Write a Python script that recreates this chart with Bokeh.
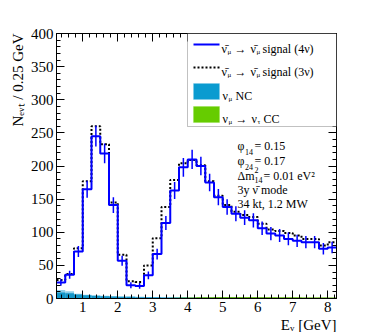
import numpy as np
from bokeh.plotting import figure
from bokeh.models import Range1d, LinearAxis, FixedTicker, Label, BoxAnnotation, Arrow, Title
from bokeh.embed import file_html
from bokeh.resources import INLINE

# ---------------- data ----------------
bin_edges = [0.25, 0.5, 0.75, 1.0, 1.25, 1.5, 1.75, 2.0, 2.25, 2.5, 2.75, 3.0, 3.25, 3.5,
             3.75, 4.0, 4.25, 4.5, 4.75, 5.0, 5.25, 5.5, 5.75, 6.0, 6.25, 6.5, 6.75, 7.0,
             7.25, 7.5, 7.75, 8.0, 8.25]

signal_3nu = [28, 37, 76, 177, 260, 233, 145, 66, 26, 25, 50, 91, 138, 179, 204, 209,
              201, 177, 155, 141, 131, 126, 123, 113, 104, 102, 99, 95, 90, 90, 80, 85]
signal_4nu = [24, 36, 71, 165, 245, 219, 141, 57, 20, 19, 35, 67, 114, 163, 198, 210,
              200, 175, 153, 138, 128, 122, 118, 106, 98, 95, 90, 87, 85, 85, 75, 77]
nc_3nu = [13, 11, 7, 5.5, 4.5, 4, 3.5, 3, 3, 2.5, 2.2, 2, 2, 1.8, 1.8, 1.5,
          1.5, 1.3, 1.2, 1.2, 1.1, 1, 1, 1, 0.9, 0.8, 0.8, 0.7, 0.7, 0.7, 0.6, 0.6]
nc_4nu = [9, 8, 6, 5, 4, 3.5, 3, 2.5, 2.5, 2, 2, 2, 1.5, 1.5, 1.5, 1.2,
          1.2, 1, 1, 1, 1, 0.8, 0.8, 0.8, 0.6, 0.6, 0.6, 0.5, 0.5, 0.5, 0.5, 0.5]
cc_nutau = [0, 0, 0, 0, 0, 0, 0, 0, 0, 0, 0, 0, 0, 0.3, 0.6, 0.8,
            1, 1, 1.2, 1.2, 1.2, 1.2, 1.2, 1.1, 1.1, 1, 1, 1, 0.9, 0.9, 0.9, 0.8]

x_major = [1, 2, 3, 4, 5, 6, 7, 8]
y_major = [0, 50, 100, 150, 200, 250, 300, 350, 400]

# ---------------- derived ----------------
edges = np.array(bin_edges)
left, right = edges[:-1], edges[1:]
centers = 0.5 * (left + right)
s3 = np.array(signal_3nu, float)
s4 = np.array(signal_4nu, float)
err4 = np.sqrt(s4)

FONT = "Liberation Serif"
FL, FB = 56, 298  # frame left / bottom in page pixels

p = figure(frame_width=280, frame_height=265, x_range=Range1d(0.25, 8.25), y_range=Range1d(0, 400),
           output_backend="svg", toolbar_location=None,
           min_border_left=56, min_border_right=30, min_border_top=33, min_border_bottom=33)
p.grid.visible = False
p.outline_line_color = "black"
p.outline_line_alpha = 1.0
p.background_fill_color = "white"
p.border_fill_color = "white"

# backgrounds
p.quad(left=left, right=right, bottom=0, top=nc_3nu, fill_color="#8fd0ea", line_color=None)
p.quad(left=left, right=right, bottom=0, top=nc_4nu, fill_color="#1496c8", line_color=None)
p.quad(left=left, right=right, bottom=0, top=cc_nutau, fill_color="#66cc00", line_color="#55aa00",
       line_width=1)

# signals
p.step(x=edges, y=np.append(s3, s3[-1]), mode="after", line_color="black", line_width=2,
       line_dash="2 2")
p.step(x=edges, y=np.append(s4, s4[-1]), mode="after", line_color="#0000ff", line_width=2)
p.segment(x0=centers, y0=s4 - err4, x1=centers, y1=s4 + err4, line_color="#0000ff", line_width=1.5)

# axes
minor_x = [round(v, 2) for v in np.arange(0.4, 8.25, 0.2)]
minor_y = list(range(0, 401, 10))
xt = FixedTicker(ticks=x_major, minor_ticks=minor_x)
yt = FixedTicker(ticks=y_major, minor_ticks=minor_y)


def style(ax, labels=True):
    ax.major_tick_in = 8
    ax.major_tick_out = 0
    ax.minor_tick_in = 4
    ax.minor_tick_out = 0
    ax.axis_line_color = "black"
    ax.major_tick_line_color = "black"
    ax.minor_tick_line_color = "black"
    ax.major_label_text_font = FONT
    if labels:
        ax.major_label_text_font_size = "15px"
        ax.major_label_text_color = "black"
    else:
        ax.major_label_text_font_size = "1px"
        ax.major_label_text_color = None
        ax.major_label_standoff = 0


p.xaxis.ticker = xt
p.yaxis.ticker = yt
style(p.xaxis[0])
style(p.yaxis[0])
p.xaxis.major_label_standoff = 3
p.yaxis.major_label_standoff = 3

ra = LinearAxis(ticker=yt)
style(ra, labels=False)
p.add_layout(ra, "right")
ta = LinearAxis(ticker=xt)
style(ta, labels=False)
p.add_layout(ta, "above")

# axis titles (side panels, outside the frame)
p.add_layout(Title(text="N\u2091\u1d65\u209c / 0.25 GeV", align="right", text_font=FONT,
                   text_font_size="15px", text_font_style="normal", text_color="black",
                   standoff=3), "left")
p.add_layout(Title(text="E\u1d65 [GeV]", align="right", text_font=FONT,
                   text_font_size="15px", text_font_style="normal", text_color="black",
                   standoff=0), "below")


def lab(text, X, Y, size=12, align="left"):
    p.add_layout(Label(x=X - FL, y=FB - Y, x_units="screen", y_units="screen", text=text,
                       text_font=FONT, text_font_size=f"{size}px", text_align=align,
                       text_baseline="alphabetic", text_color="black"))


def sbox(x0, x1, y0, y1, **kw):
    p.add_layout(BoxAnnotation(left=x0 - FL, right=x1 - FL, top=FB - y0, bottom=FB - y1,
                               left_units="screen", right_units="screen", top_units="screen",
                               bottom_units="screen", fill_alpha=1.0, **kw))


def sline(x0, x1, y, **kw):
    p.add_layout(Arrow(x_start=x0 - FL, y_start=FB - y, x_end=x1 - FL, y_end=FB - y,
                       start_units="screen", end_units="screen", end=None, **kw))


# legend
sbox(187, 336, 33, 126, fill_color="white", line_color="#333333", line_width=1)
sline(193, 219, 44, line_color="#0000ff", line_width=2)
sline(193, 219, 67, line_color="black", line_width=2, line_dash="2 2")
sbox(193, 219, 83, 99, fill_color="#0a9bd0", line_color="#7cc8e8", line_width=1)
sbox(193, 219, 106, 122, fill_color="#66cc00", line_color="#88dd33", line_width=1)

for yb, tail in ((48, "signal (4ν)"), (71, "signal (3ν)")):
    lab("ν\u0304", 221, yb, size=12)
    lab("μ", 227, yb + 3, size=7)
    lab("→", 234, yb, size=12)
    lab("ν\u0304", 250, yb, size=12)
    lab("μ", 256, yb + 3, size=7)
    lab(tail, 262, yb, size=12)
lab("ν", 222, 95, size=12)
lab("μ", 228, 98, size=7)
lab("NC", 235, 95, size=12)
lab("ν", 222, 118, size=12)
lab("μ", 228, 121, size=7)
lab("→", 235, 118, size=12)
lab("ν", 251, 118, size=12)
lab("τ", 257, 121, size=7)
lab("CC", 263, 118, size=12)

# parameter text
lab("φ", 237, 145)
lab("14", 244.5, 151, size=8)
lab("= 0.15", 254, 145)
lab("φ", 237, 160)
lab("24", 244.5, 166, size=8)
lab("= 0.17", 254, 160)
lab("Δm", 237, 175)
lab("2", 254, 169.5, size=8)
lab("14", 254, 179.5, size=8)
lab("= 0.01 eV²", 263, 175)
lab("3y ν\u0304 mode", 237, 189.5)
lab("34 kt, 1.2 MW", 237, 203.5)

open("out.html", "w").write(file_html(p, INLINE))
